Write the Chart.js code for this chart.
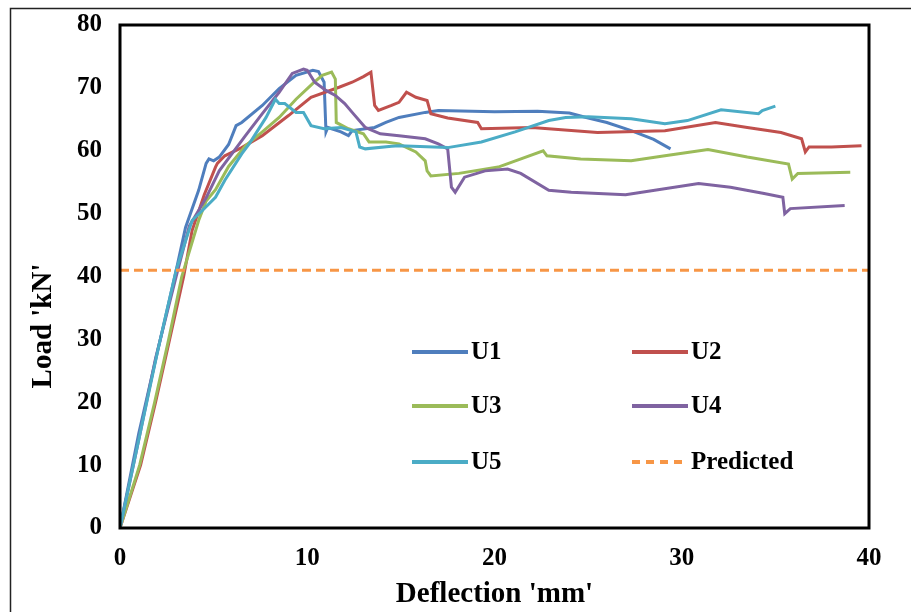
<!DOCTYPE html>
<html>
<head>
<meta charset="utf-8">
<script src="https://cdn.jsdelivr.net/npm/chart.js@4.4.1/dist/chart.umd.min.js"></script>
<style>
    html, body { margin: 0; padding: 0; background: #fff; }
    #wrap { width: 911px; height: 612px; position: relative; }
</style>
</head>
<body>
<div id="wrap"><canvas id="loadChart"></canvas></div>
<script>
// deflection (mm) / load (kN)
const u1Defl = [0, 1.0, 2.0, 3.0, 3.5, 4.2, 4.6, 4.75, 5.0, 5.3, 5.8, 6.2, 6.5, 7.6, 8.5, 9.4, 10.3, 10.6, 10.9, 11.0, 11.1, 11.8, 12.2, 12.4, 13.6, 14.2, 14.9, 16.3, 17.0, 20.0, 22.3, 24.0, 24.9, 26.0, 27.3, 28.5, 29.4];
const u1Load = [0, 15, 28, 41, 47.8, 53.7, 58, 58.7, 58.4, 59, 61, 64, 64.5, 67.2, 69.9, 72, 72.8, 72.6, 70.9, 63, 63.7, 63, 62.4, 63.2, 63.7, 64.5, 65.3, 66.1, 66.4, 66.2, 66.3, 66.0, 65.3, 64.5, 63.2, 61.8, 60.3];

const u2Defl = [0, 1.1, 1.9, 2.65, 3.4, 3.85, 4.5, 5.1, 5.2, 5.6, 6.5, 7.6, 9.0, 10.2, 11.7, 12.4, 13.0, 13.4, 13.6, 13.8, 14.5, 14.9, 15.3, 15.8, 16.4, 16.6, 17.5, 19.1, 19.3, 22.0, 25.5, 29.1, 31.8, 33.5, 35.3, 36.4, 36.6, 36.8, 38.0, 39.6];
const u2Load = [0, 10, 20, 30, 40, 47.3, 53, 57.4, 58, 59.2, 60.5, 62.4, 65.6, 68.5, 70.1, 70.9, 71.8, 72.5, 67.2, 66.4, 67.2, 67.7, 69.3, 68.5, 68, 65.9, 65.2, 64.5, 63.5, 63.7, 62.9, 63.2, 64.5, 63.7, 62.9, 61.9, 59.8, 60.6, 60.6, 60.8];

const u3Defl = [0, 1.05, 1.85, 2.6, 3.3, 4.2, 4.6, 5.1, 5.8, 6.7, 7.6, 8.5, 9.4, 10.3, 10.8, 11.3, 11.5, 11.55, 12.2, 13.0, 13.3, 14.2, 14.9, 15.8, 16.3, 16.4, 16.6, 18.1, 20.2, 22.6, 22.8, 24.6, 27.3, 29.1, 31.4, 33.5, 35.7, 35.9, 36.2, 39.0];
const u3Load = [0, 10, 20, 30, 40, 48.9, 52.0, 53.8, 57.5, 60.8, 63, 65.3, 68.2, 70.7, 72, 72.5, 71.4, 64.5, 63.5, 62.7, 61.4, 61.4, 61.1, 59.8, 58.4, 56.8, 56.0, 56.4, 57.4, 60.0, 59.2, 58.7, 58.4, 59.2, 60.2, 59.0, 57.9, 55.5, 56.4, 56.6];

const u4Defl = [0, 1.0, 1.9, 3.0, 3.7, 4.6, 5.3, 6.7, 7.6, 8.5, 9.2, 9.8, 10.0, 10.4, 11.0, 11.5, 12.0, 12.4, 13.1, 13.9, 14.9, 16.3, 17.0, 17.5, 17.7, 17.9, 18.4, 19.5, 20.7, 21.4, 22.9, 24.1, 27.0, 30.9, 32.6, 34.4, 35.4, 35.5, 35.8, 38.7];
const u4Load = [0, 14, 27, 40, 48, 52.5, 56.8, 62.4, 65.9, 69.3, 72.3, 73.0, 72.8, 70.9, 69.6, 68.8, 67.5, 66.1, 63.7, 62.7, 62.4, 61.9, 61.1, 60.3, 54.2, 53.4, 55.8, 56.8, 57.1, 56.4, 53.7, 53.4, 53.0, 54.8, 54.2, 53.2, 52.6, 50.0, 50.8, 51.3];

const u5Defl = [0, 1.0, 2.0, 3.0, 3.85, 4.4, 5.1, 5.6, 6.5, 6.9, 7.8, 8.3, 8.5, 8.8, 9.4, 9.8, 10.2, 10.9, 11.8, 12.6, 12.8, 13.1, 14.5, 14.9, 17.5, 19.3, 21.1, 22.9, 23.8, 25.0, 27.3, 29.1, 30.3, 32.1, 34.1, 34.3, 35.0];
const u5Load = [0, 14, 28, 41, 48.9, 50.5, 52.6, 55.3, 59.5, 61.1, 65.3, 68.2, 67.5, 67.5, 66.1, 66.1, 64.0, 63.5, 63.7, 63.0, 60.6, 60.3, 60.7, 60.8, 60.5, 61.4, 63.0, 64.8, 65.3, 65.4, 65.1, 64.3, 64.8, 66.5, 65.9, 66.4, 67.1];

const predictedDefl = [0, 40];
const predictedLoad = [41, 41];

const seriesNames = ['U1', 'U2', 'U3', 'U4', 'U5', 'Predicted'];
const seriesColors = ['#4F7EBD', '#C0504D', '#9BBB59', '#7F63A1', '#4BACC6', '#F79646'];
const xTicks = [0, 10, 20, 30, 40];
const yTicks = [0, 10, 20, 30, 40, 50, 60, 70, 80];

const FONT = "'Liberation Serif', 'Times New Roman', serif";

function toPoints(xs, ys) {
    return xs.map((x, i) => ({ x: x, y: ys[i] }));
}

const allDefl = [u1Defl, u2Defl, u3Defl, u4Defl, u5Defl, predictedDefl];
const allLoad = [u1Load, u2Load, u3Load, u4Load, u5Load, predictedLoad];

const datasets = seriesNames.map((name, i) => ({
    label: name,
    data: toPoints(allDefl[i], allLoad[i]),
    borderColor: seriesColors[i],
    backgroundColor: seriesColors[i],
    borderWidth: 3,
    borderDash: name === 'Predicted' ? [9, 5] : [],
    pointRadius: 0,
    tension: 0,
    fill: false,
    order: seriesNames.length - 1 - i
}));

// frame round the whole picture (top and left edges only)
const outerFrame = {
    id: 'outerFrame',
    beforeDraw(chart) {
        const ctx = chart.ctx;
        ctx.save();
        ctx.strokeStyle = '#222';
        ctx.lineWidth = 1.5;
        ctx.beginPath();
        ctx.moveTo(10.5, 612);
        ctx.lineTo(10.5, 8.5);
        ctx.lineTo(911, 8.5);
        ctx.stroke();
        ctx.restore();
    }
};

// black box round the plot area + the y axis title
const plotBox = {
    id: 'plotBox',
    afterDatasetsDraw(chart) {
        const { ctx, chartArea } = chart;
        ctx.save();
        ctx.strokeStyle = '#000';
        ctx.lineWidth = 3;
        ctx.strokeRect(chartArea.left, chartArea.top, chartArea.right - chartArea.left, chartArea.bottom - chartArea.top);

        ctx.translate(44, chartArea.top + 301);
        ctx.rotate(-Math.PI / 2);
        ctx.font = "bold 29px " + FONT;
        ctx.fillStyle = '#000';
        ctx.textAlign = 'center';
        ctx.textBaseline = 'middle';
        ctx.fillText("Load 'kN'", 0, 0);
        ctx.restore();
    }
};

// two column legend inside the plot
const innerLegend = {
    id: 'innerLegend',
    afterDraw(chart) {
        const { ctx, chartArea } = chart;
        const colX = [chartArea.left + 292, chartArea.left + 512];
        const rowY = [chartArea.top + 327, chartArea.top + 381, chartArea.top + 437];
        ctx.save();
        ctx.font = "bold 25px " + FONT;
        ctx.textBaseline = 'middle';
        ctx.fillStyle = '#000';
        chart.data.datasets.forEach((ds, i) => {
            const x = colX[i % 2];
            const y = rowY[Math.floor(i / 2)];
            ctx.strokeStyle = ds.borderColor;
            ctx.lineWidth = 4;
            ctx.setLineDash(ds.borderDash.length ? [8, 6] : []);
            ctx.beginPath();
            ctx.moveTo(x, y);
            ctx.lineTo(x + 56, y);
            ctx.stroke();
            ctx.setLineDash([]);
            ctx.fillText(ds.label, x + 59, y + 1);
        });
        ctx.restore();
    }
};

const config = {
    type: 'line',
    data: { datasets: datasets },
    options: {
        responsive: true,
        maintainAspectRatio: false,
        animation: false,
        layout: { padding: { top: 25, right: 42, left: 0, bottom: 0 } },
        plugins: {
            legend: { display: false },
            tooltip: { enabled: false }
        },
        scales: {
            x: {
                type: 'linear',
                min: 0,
                max: 40,
                afterFit(scale) {
                    scale.height = 84;
                    scale.paddingLeft = 0;
                    scale.paddingRight = 0;
                },
                afterBuildTicks(scale) { scale.ticks = xTicks.map(v => ({ value: v })); },
                grid: { display: false, drawTicks: false },
                border: { display: false },
                ticks: {
                    color: '#000',
                    padding: 16,
                    maxRotation: 0,
                    font: { family: FONT, size: 25, weight: 'bold' }
                },
                title: {
                    display: true,
                    text: "Deflection 'mm'",
                    color: '#000',
                    padding: { top: 0, bottom: 0 },
                    font: { family: FONT, size: 29, weight: 'bold' }
                }
            },
            y: {
                type: 'linear',
                min: 0,
                max: 80,
                afterFit(scale) {
                    scale.width = 120;
                    scale.paddingTop = 0;
                    scale.paddingBottom = 0;
                },
                afterBuildTicks(scale) { scale.ticks = yTicks.map(v => ({ value: v })); },
                grid: { display: false, drawTicks: false },
                border: { display: false },
                ticks: {
                    color: '#000',
                    padding: 18,
                    font: { family: FONT, size: 25, weight: 'bold' }
                }
            }
        }
    },
    plugins: [outerFrame, plotBox, innerLegend]
};

new Chart(document.getElementById('loadChart'), config);
</script>
</body>
</html>
